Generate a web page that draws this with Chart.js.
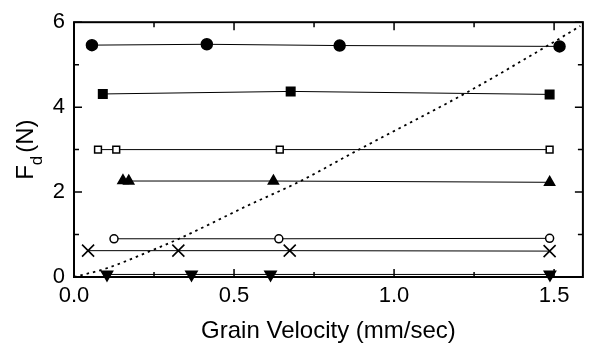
<!DOCTYPE html>
<html>
<head>
<meta charset="utf-8">
<script src="https://cdn.jsdelivr.net/npm/chart.js@4"></script>
<style>
  body { margin: 0; background: #fff; }
</style>
</head>
<body>
<canvas id="fdChart" width="593" height="347"></canvas>
<script>
const xTicks = [0, 0.5, 1.0, 1.5];
const yTicks = [0, 2, 4, 6];
const xMinor = [0.25, 0.75, 1.25];
const yMinor = [1, 3, 5];

const filledCircleX = [0.056, 0.415, 0.83, 1.517];
const filledCircleY = [5.46, 5.48, 5.45, 5.43];
const filledSquareX = [0.09, 0.677, 1.486];
const filledSquareY = [4.31, 4.37, 4.30];
const openSquareX = [0.075, 0.132, 0.643, 1.486];
const openSquareY = [3.0, 3.0, 3.0, 3.0];
const upTriangleX = [0.153, 0.171, 0.623, 1.486];
const upTriangleY = [2.27, 2.26, 2.26, 2.23];
const openCircleX = [0.125, 0.64, 1.486];
const openCircleY = [0.9, 0.9, 0.91];
const crossX = [0.044, 0.326, 0.674, 1.486];
const crossY = [0.62, 0.62, 0.62, 0.61];
const downTriangleX = [0.103, 0.367, 0.614, 1.487];
const downTriangleY = [0.06, 0.06, 0.06, 0.06];
const limitX = [0, 0.1, 0.235, 0.328, 0.545, 0.70, 0.89, 1.226, 1.505, 1.582];
const limitY = [0, 0.2, 0.6, 0.9, 1.69, 2.23, 3.0, 4.34, 5.56, 5.91];

const FONT = "'Liberation Sans', Arial, sans-serif";

function pts(xs, ys) {
    return xs.map((v, i) => ({ x: v, y: ys[i] }));
}

function series(xs, ys, style, radius, filled, extra) {
    return Object.assign({
        data: pts(xs, ys),
        showLine: true,
        borderColor: '#000',
        borderWidth: 1,
        pointStyle: style,
        pointRadius: radius,
        pointBackgroundColor: filled ? '#000' : '#fff',
        pointBorderColor: '#000',
        pointBorderWidth: 1.5,
        clip: false
    }, extra || {});
}

// inward ticks on all four sides plus the box
const frameTicks = {
    id: 'frameTicks',
    afterDatasetsDraw(chart) {
        const { ctx, chartArea: a, scales: { x, y } } = chart;
        ctx.save();
        ctx.strokeStyle = '#000';
        ctx.lineWidth = 1.5;
        ctx.beginPath();
        const xt = (v, len) => {
            const px = x.getPixelForValue(v);
            ctx.moveTo(px, a.bottom); ctx.lineTo(px, a.bottom - len);
            ctx.moveTo(px, a.top); ctx.lineTo(px, a.top + len);
        };
        const yt = (v, len) => {
            const py = y.getPixelForValue(v);
            ctx.moveTo(a.left, py); ctx.lineTo(a.left + len, py);
            ctx.moveTo(a.right, py); ctx.lineTo(a.right - len, py);
        };
        xTicks.forEach(v => xt(v, 8));
        xMinor.forEach(v => xt(v, 5));
        yTicks.forEach(v => yt(v, 8));
        yMinor.forEach(v => yt(v, 5));
        ctx.stroke();
        ctx.lineWidth = 2;
        ctx.strokeRect(a.left, a.top, a.right - a.left, a.bottom - a.top);
        ctx.restore();
    }
};

// y title with subscript: F_d (N)
const yTitle = {
    id: 'yTitle',
    afterDraw(chart) {
        const { ctx, chartArea: a } = chart;
        ctx.save();
        ctx.fillStyle = '#000';
        ctx.textBaseline = 'alphabetic';
        ctx.textAlign = 'left';
        const big = '24px ' + FONT, small = '17px ' + FONT;
        ctx.font = big;
        const wF = ctx.measureText('F').width;
        const wN = ctx.measureText('(N)').width;
        ctx.font = small;
        const wd = ctx.measureText('d').width;
        const gap = 3;
        const total = wF + wd + gap + wN;
        ctx.translate(33, (a.top + a.bottom) / 2 + total / 2);
        ctx.rotate(-Math.PI / 2);
        ctx.font = big;
        ctx.fillText('F', 0, 0);
        ctx.font = small;
        ctx.fillText('d', wF, 9);
        ctx.font = big;
        ctx.fillText('(N)', wF + wd + gap, 0);
        ctx.restore();
    }
};

const fdChart = new Chart(document.getElementById('fdChart'), {
    type: 'scatter',
    data: {
        datasets: [
            series(filledCircleX, filledCircleY, 'circle', 5.5, true),
            series(filledSquareX, filledSquareY, 'rect', 6, true),
            series(openSquareX, openSquareY, 'rect', 4.8, false),
            series(upTriangleX, upTriangleY, 'triangle', 5.8, true),
            series(openCircleX, openCircleY, 'circle', 4, false),
            series(crossX, crossY, 'crossRot', 8.5, false, { pointBorderWidth: 1.6 }),
            series(downTriangleX, downTriangleY, 'triangle', 6.5, true, { pointRotation: 180 }),
            {
                data: pts(limitX, limitY),
                showLine: true,
                borderColor: '#000',
                borderWidth: 1.8,
                borderDash: [2.5, 4],
                pointRadius: 0,
                cubicInterpolationMode: 'monotone'
            }
        ]
    },
    options: {
        responsive: false,
        animation: false,
        devicePixelRatio: 1,
        layout: { padding: { top: 16, right: 5, left: 0, bottom: 0 } },
        plugins: {
            legend: { display: false },
            tooltip: { enabled: false }
        },
        scales: {
            x: {
                type: 'linear',
                min: 0,
                max: 1.59,
                afterBuildTicks: s => { s.ticks = xTicks.map(v => ({ value: v })); },
                afterFit: s => { s.height = 70; },
                grid: { display: false, drawTicks: false },
                border: { display: false },
                ticks: {
                    padding: 6,
                    color: '#000',
                    font: { family: FONT, size: 22 },
                    callback: v => v.toFixed(1)
                },
                title: {
                    display: true,
                    text: 'Grain Velocity (mm/sec)',
                    color: '#000',
                    font: { family: FONT, size: 24 },
                    padding: { top: 0, bottom: 1 }
                }
            },
            y: {
                type: 'linear',
                min: 0,
                max: 6,
                afterBuildTicks: s => { s.ticks = yTicks.map(v => ({ value: v })); },
                afterFit: s => { s.width = 74; },
                grid: { display: false, drawTicks: false },
                border: { display: false },
                ticks: {
                    padding: 9,
                    color: '#000',
                    font: { family: FONT, size: 22 }
                }
            }
        }
    },
    plugins: [frameTicks, yTitle]
});
</script>
</body>
</html>
